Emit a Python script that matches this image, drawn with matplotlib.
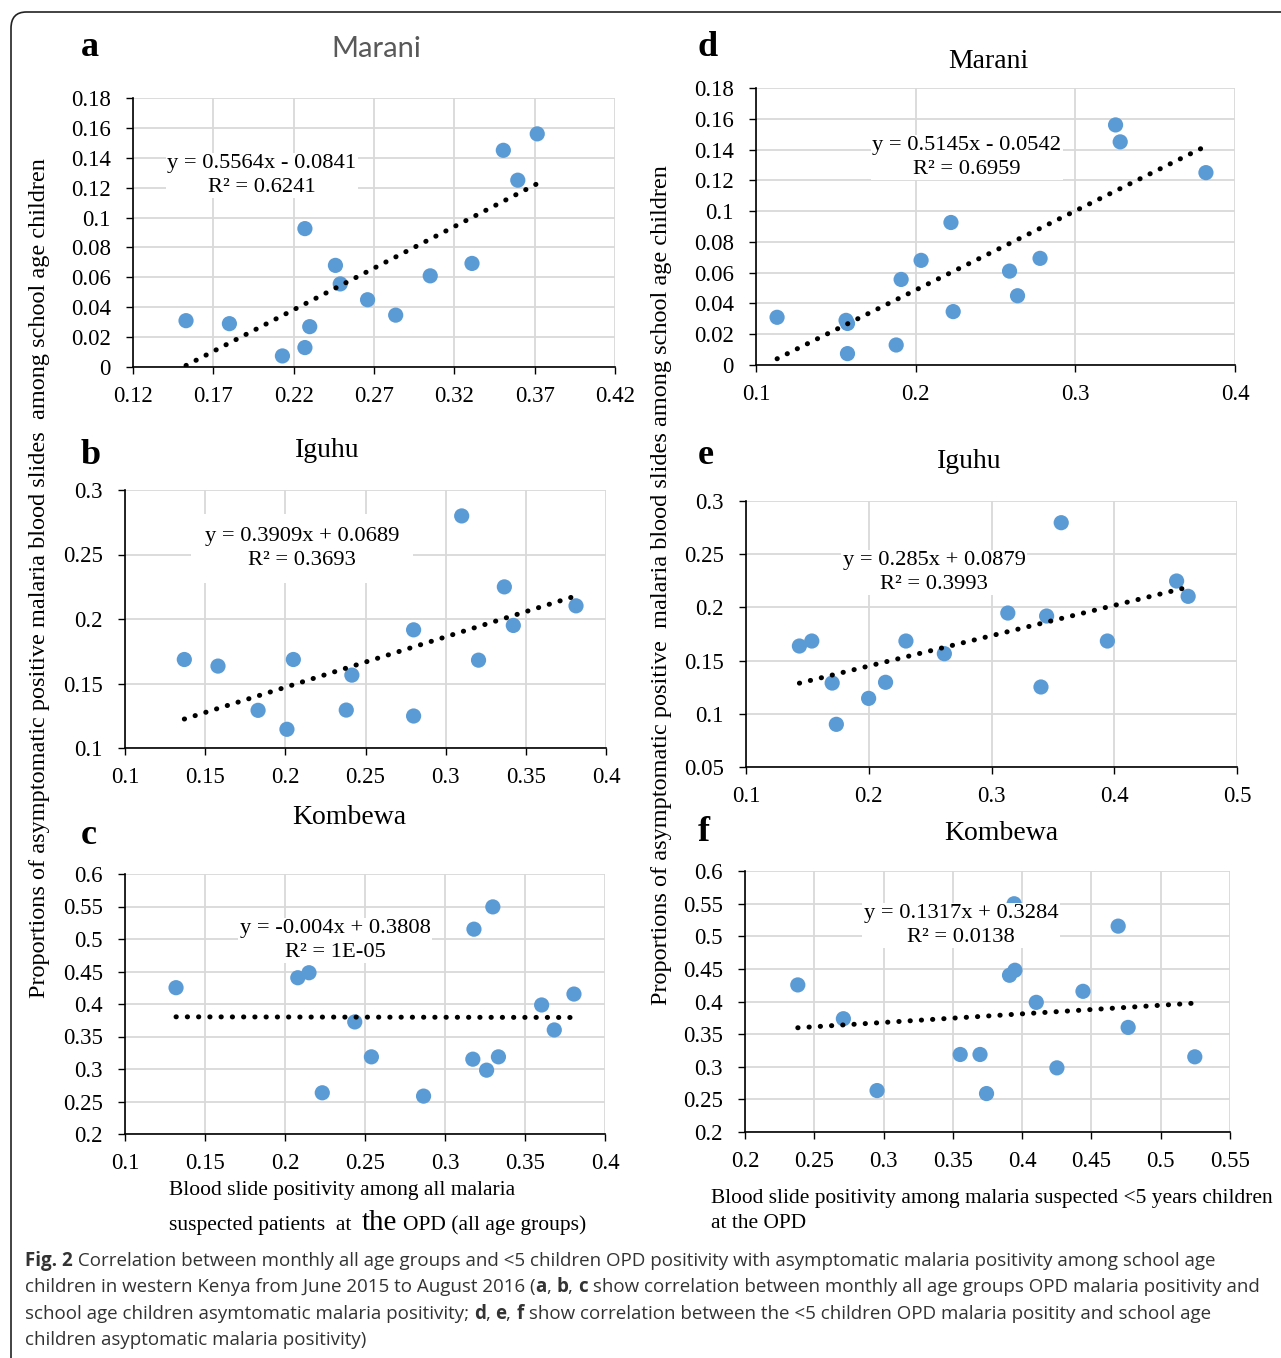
import numpy as np
import matplotlib
matplotlib.use("Agg")
import matplotlib.pyplot as plt
from matplotlib.patches import FancyBboxPatch

# ---- data ----
# y values are the same monthly school-age positivity in each site
a_x = [0.153, 0.180, 0.213, 0.227, 0.227, 0.230, 0.246, 0.249, 0.266, 0.2835, 0.305, 0.331, 0.3505, 0.3595, 0.3716]
a_y = [0.031, 0.029, 0.0074, 0.0926, 0.013, 0.027, 0.068, 0.0556, 0.045, 0.0347, 0.061, 0.0693, 0.145, 0.125, 0.156]

d_x = [0.1132, 0.1564, 0.1573, 0.1573, 0.1878, 0.1909, 0.2034, 0.2221, 0.2235, 0.2588, 0.2638, 0.2779, 0.3252, 0.3281, 0.3818]
d_y = [0.031, 0.029, 0.027, 0.0074, 0.013, 0.0556, 0.068, 0.0926, 0.0347, 0.061, 0.045, 0.0693, 0.156, 0.145, 0.125]

b_x = [0.137, 0.158, 0.183, 0.201, 0.205, 0.238, 0.2415, 0.280, 0.280, 0.310, 0.3205, 0.3366, 0.3422, 0.3813]
b_y = [0.1686, 0.1635, 0.1292, 0.1145, 0.1686, 0.1294, 0.1565, 0.1916, 0.1248, 0.2799, 0.1681, 0.2249, 0.195, 0.2102]

e_x = [0.1435, 0.1536, 0.1702, 0.1736, 0.1999, 0.2137, 0.2303, 0.2616, 0.3133, 0.3403, 0.3449, 0.3568, 0.3944, 0.4508, 0.4602]
e_y = [0.1637, 0.1684, 0.1289, 0.0901, 0.1145, 0.1296, 0.1684, 0.1565, 0.1947, 0.1252, 0.1919, 0.2796, 0.1684, 0.2248, 0.2104]

c_x = [0.1319, 0.208, 0.215, 0.2233, 0.2436, 0.254, 0.2866, 0.3174, 0.3181, 0.326, 0.3299, 0.3334, 0.3604, 0.3683, 0.3806]
c_y = [0.4251, 0.4404, 0.4481, 0.2634, 0.3724, 0.3187, 0.2583, 0.3151, 0.5151, 0.2982, 0.5494, 0.3187, 0.3985, 0.3601, 0.4153]

f_x = [0.2381, 0.271, 0.2953, 0.3553, 0.3696, 0.3743, 0.3909, 0.3942, 0.3948, 0.4102, 0.4251, 0.4439, 0.4693, 0.4765, 0.5246]
f_y = [0.4254, 0.3736, 0.2635, 0.3188, 0.3188, 0.2589, 0.4402, 0.5498, 0.4479, 0.3987, 0.2983, 0.4156, 0.5155, 0.3603, 0.3152]

# trendline coefficients (slope, intercept) and labels
a_fit = (0.5564, -0.0841); a_eq = ["y = 0.5564x - 0.0841", "R² = 0.6241"]
b_fit = (0.3909, 0.0689);  b_eq = ["y = 0.3909x + 0.0689", "R² = 0.3693"]
c_fit = (-0.004, 0.3808);  c_eq = ["y = -0.004x + 0.3808", "R² = 1E-05"]
d_fit = (0.5145, -0.0542); d_eq = ["y = 0.5145x - 0.0542", "R² = 0.6959"]
e_fit = (0.285, 0.0879);   e_eq = ["y = 0.285x + 0.0879", "R² = 0.3993"]
f_fit = (0.1317, 0.3284);  f_eq = ["y = 0.1317x + 0.3284", "R² = 0.0138"]

a_xt = [0.12, 0.17, 0.22, 0.27, 0.32, 0.37, 0.42]
a_yt = [0, 0.02, 0.04, 0.06, 0.08, 0.1, 0.12, 0.14, 0.16, 0.18]
b_xt = [0.1, 0.15, 0.2, 0.25, 0.3, 0.35, 0.4]
b_yt = [0.1, 0.15, 0.2, 0.25, 0.3]
c_xt = [0.1, 0.15, 0.2, 0.25, 0.3, 0.35, 0.4]
c_yt = [0.2, 0.25, 0.3, 0.35, 0.4, 0.45, 0.5, 0.55, 0.6]
d_xt = [0.1, 0.2, 0.3, 0.4]
d_yt = a_yt
e_xt = [0.1, 0.2, 0.3, 0.4, 0.5]
e_yt = [0.05, 0.1, 0.15, 0.2, 0.25, 0.3]
f_xt = [0.2, 0.25, 0.3, 0.35, 0.4, 0.45, 0.5, 0.55]
f_yt = c_yt

W, H = 1281, 1358
SERIF = "Liberation Serif"
BLUE = "#5B9BD5"

plt.rcParams["font.family"] = SERIF

fig = plt.figure(figsize=(W / 100, H / 100), dpi=100)
fig.patch.set_facecolor("white")

# rounded frame, cut on the right and bottom like the scan
frame = FancyBboxPatch((11 / W, -30 / H), 1300 / W, (H - 12 + 30) / H,
                       boxstyle="round,pad=0,rounding_size=0.012",
                       transform=fig.transFigure, fill=False, lw=1.2, ec="#222222")
fig.patches.append(frame)


def fx(px):
    return px / W


def fy(py):
    return 1 - py / H


def panel(box, xs, ys, fit, eq, xt, yt, eq_pos, boxed=False):
    l, t, r, b = box
    ax = fig.add_axes([fx(l), fy(b), (r - l) / W, (b - t) / H])
    ax.set_xlim(xt[0], xt[-1])
    ax.set_ylim(yt[0], yt[-1])
    ax.set_xticks(xt)
    ax.set_yticks(yt)
    ax.set_xticklabels([f"{v:g}" for v in xt], fontfamily=SERIF, fontsize=16.5)
    ax.set_yticklabels([f"{v:g}" for v in yt], fontfamily=SERIF, fontsize=16.5)
    ax.tick_params(direction="out", length=5, width=1, color="black")
    ax.tick_params(axis="x", pad=9)
    ax.tick_params(axis="y", pad=11)
    ax.grid(True, color="#D9D9D9", lw=1.3)
    ax.set_axisbelow(True)
    for s in ["top", "right"]:
        ax.spines[s].set_visible(False)
    for s in ["left", "bottom"]:
        ax.spines[s].set_color("black")
        ax.spines[s].set_linewidth(1.2)
        ax.spines[s].set_zorder(3)
    ax.scatter(xs, ys, s=120, color=BLUE, edgecolors="none", zorder=3, clip_on=False)
    lx = np.array([min(xs), max(xs)])
    ax.plot(lx, fit[0] * lx + fit[1], color="black", lw=3.6,
            linestyle=(0, (0.05, 2.2)), dash_capstyle="round", zorder=4)
    ex, ey = eq_pos
    if boxed:
        bb = dict(facecolor="white", edgecolor="none", boxstyle="square,pad=0.6")
    else:
        bb = dict(facecolor="white", edgecolor="none", pad=1)
    fig.text(fx(ex), fy(ey + 12.5), "\n".join(eq), ha="center", va="center",
             family=SERIF, fontsize=16.2, linespacing=1.35, bbox=bb, zorder=5)
    return ax


panel((133, 98, 615, 367), a_x, a_y, a_fit, a_eq, a_xt, a_yt, (262, 163))
panel((125, 490, 606, 748), b_x, b_y, b_fit, b_eq, b_xt, b_yt, (302, 536), boxed=True)
panel((125, 874, 605, 1134), c_x, c_y, c_fit, c_eq, c_xt, c_yt, (335, 928))
panel((756, 88, 1235, 365), d_x, d_y, d_fit, d_eq, d_xt, d_yt, (967, 145))
panel((746, 501, 1237, 767), e_x, e_y, e_fit, e_eq, e_xt, e_yt, (934, 560))
panel((745, 871, 1230, 1132), f_x, f_y, f_fit, f_eq, f_xt, f_yt, (961, 913))

# titles and panel letters
fig.text(fx(376), fy(49), "Marani", ha="center", va="center", family="Lato", fontsize=21, color="#595959")
fig.text(fx(988), fy(61), "Marani", ha="center", va="center", family=SERIF, fontsize=20)
fig.text(fx(327), fy(451), "Iguhu", ha="center", va="center", family=SERIF, fontsize=20)
fig.text(fx(969), fy(462), "Iguhu", ha="center", va="center", family=SERIF, fontsize=20)
fig.text(fx(349), fy(818), "Kombewa", ha="center", va="center", family=SERIF, fontsize=20)
fig.text(fx(1001), fy(834), "Kombewa", ha="center", va="center", family=SERIF, fontsize=20)

for letter, px, py in [("a", 90, 47), ("b", 91, 456), ("c", 89, 836),
                       ("d", 708, 47), ("e", 706, 456), ("f", 704, 832)]:
    fig.text(fx(px), fy(py), letter, ha="center", va="center", family=SERIF,
             fontsize=26, fontweight="bold")

# axis titles
fig.text(fx(40), fy(578), "Proportions of asymptomatic positive malaria blood slides  among school age children",
         rotation=90, ha="center", va="center", family=SERIF, fontsize=17.5)
fig.text(fx(662), fy(585), "Proportions of asymptomatic positive  malaria blood slides among school age children",
         rotation=90, ha="center", va="center", family=SERIF, fontsize=17.5)

fig.text(fx(169), fy(1191), "Blood slide positivity among all malaria", ha="left", va="center",
         family=SERIF, fontsize=15.5)
fig.text(fx(169), fy(1230), "suspected patients  at", ha="left", va="baseline", family=SERIF, fontsize=15.5)
fig.text(fx(362), fy(1230), "the", ha="left", va="baseline", family=SERIF, fontsize=21)
fig.text(fx(403), fy(1230), "OPD (all age groups)", ha="left", va="baseline", family=SERIF, fontsize=15.5)
fig.text(fx(711), fy(1199), "Blood slide positivity among malaria suspected <5 years children", ha="left",
         va="center", family=SERIF, fontsize=15.4)
fig.text(fx(711), fy(1224), "at the OPD", ha="left", va="center", family=SERIF, fontsize=15.4)

# caption with bold pieces
renderer = fig.canvas.get_renderer()
caption = [
    [("Fig. 2", True), (" Correlation between monthly all age groups and <5 children OPD positivity with asymptomatic malaria positivity among school age", False)],
    [("children in western Kenya from June 2015 to August 2016 (", False), ("a", True), (", ", False), ("b", True),
     (", ", False), ("c", True), (" show correlation between monthly all age groups OPD malaria positivity and", False)],
    [("school age children asymtomatic malaria positivity; ", False), ("d", True), (", ", False), ("e", True),
     (", ", False), ("f", True), (" show correlation between the <5 children OPD malaria positity and school age", False)],
    [("children asyptomatic malaria positivity)", False)],
]
for i, parts in enumerate(caption):
    x = 25
    ypix = 1261 + i * 26.3
    for txt, bold in parts:
        t = fig.text(fx(x), fy(ypix), txt, ha="left", va="center", family="Open Sans",
                     fontsize=13.5, color="#333333", fontweight="bold" if bold else "normal")
        ext = t.get_window_extent(renderer=renderer)
        x += ext.width

fig.savefig("out.png", dpi=100, facecolor="white")
